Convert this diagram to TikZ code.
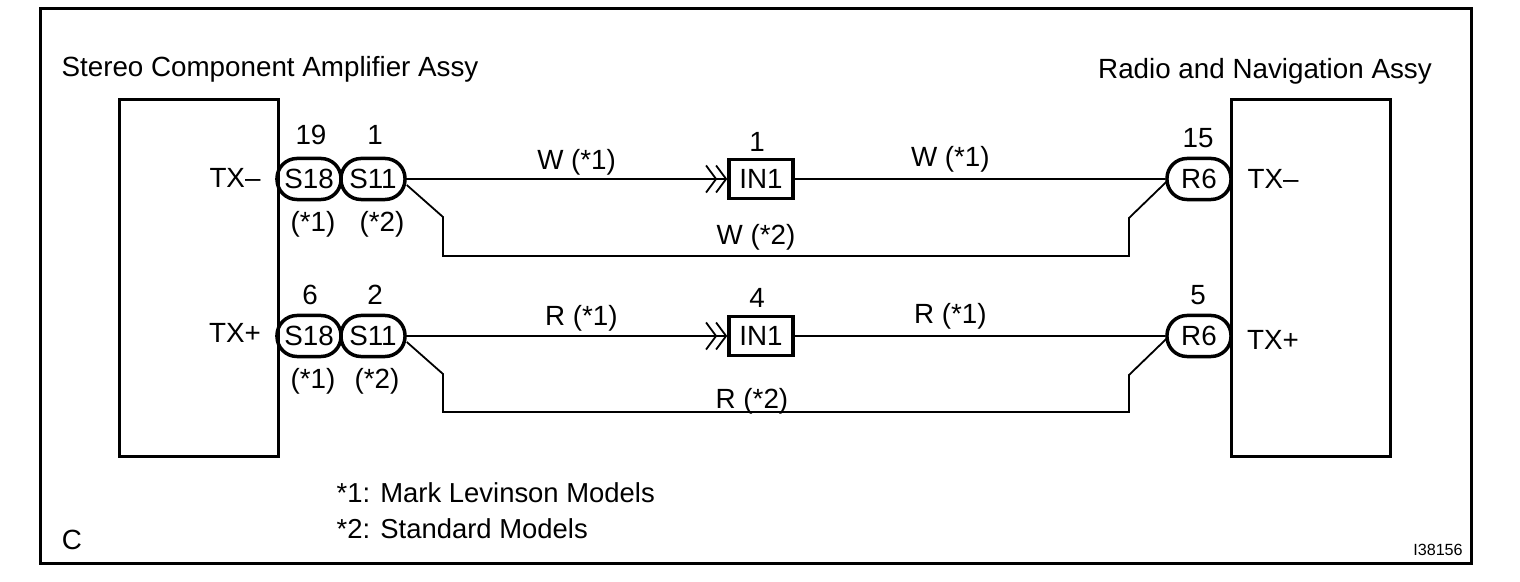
\documentclass[tikz,border=0pt]{standalone}
\usepackage{fontspec}
\setmainfont{Liberation Sans}
\usetikzlibrary{arrows.meta,calc}
\begin{document}
\begin{tikzpicture}[x=0.01cm,y=-0.01cm,
    every node/.style={font=\fontsize{7.9pt}{9pt}\selectfont,inner sep=0pt},
    unit/.style={draw,line width=0.03cm,minimum width=1.59cm,minimum height=3.56cm},
    plug/.style={draw,line width=0.035cm,rounded corners=0.2cm,minimum width=0.64cm,minimum height=0.41cm},
    inbox/.style={draw,line width=0.035cm,minimum width=0.64cm,minimum height=0.39cm},
    wire/.style={line width=0.018cm},
    note/.style={anchor=west,font=\fontsize{7.8pt}{9pt}\selectfont},
    inarrow/.style={-{Straight Barb[length=0.1cm,width=0.27cm,line width=0.018cm,sep=-0.02cm] Straight Barb[length=0.1cm,width=0.27cm,line width=0.018cm]}}]
    \useasboundingbox (0,0) rectangle (1520,582);
    \node[draw,line width=0.03cm,minimum width=14.3cm,minimum height=5.54cm] (frame) at (756,286) {};
    \node (ampname) at (270,69) {Stereo Component Amplifier Assy};
    \node (radioname) at (1265,71) {Radio and Navigation Assy};
    \node[unit] (amp) at (199,278) {};
    \node[unit] (radio) at (1311,278) {};
    \node (amptxm) at (235,178) {TX--};
    \node (amptxp) at (235,333) {TX+};
    \node (radiotxm) at (1273,179) {TX--};
    \node (radiotxp) at (1273,340) {TX+};
    % upper line
    \node[plug] (s18a) at (309,179) {S18};
    \node[plug] (s11a) at (373,179) {S11};
    \node[inbox] (ina) at (761,179) {IN1};
    \node[plug] (r6a) at (1199,179) {R6};
    \node (pin19) at (311,135) {19};
    \node (pin1) at (375,135) {1};
    \node (pinin1) at (757,142) {1};
    \node (pin15) at (1198,138) {15};
    \node (s18anote) at (313,224) {(*1)};
    \node (s11anote) at (382,224) {(*2)};
    \draw[wire,inarrow] (s11a.east) -- (ina.west) node[pos=0.53,above=0.03cm] (wa) {W (*1)};
    \draw[wire] (ina.east) -- (r6a.west) node[pos=0.42,above=0.06cm] (wb) {W (*1)};
    \coordinate (ka) at (443,217);
    \coordinate (kb) at (443,256);
    \coordinate (kc) at (1129,256);
    \coordinate (kd) at (1129,218);
    \draw[wire] (s11a.east) ++(0,6) -- (ka) -- (kb) -- (kc) -- (kd) -- ($(r6a.west)+(1,3)$);
    \node (wc) at (756,237) {W (*2)};
    % lower line
    \node[plug] (s18b) at (309,336) {S18};
    \node[plug] (s11b) at (373,336) {S11};
    \node[inbox] (inb) at (761,336) {IN1};
    \node[plug] (r6b) at (1199,336) {R6};
    \node (pin6) at (310,295) {6};
    \node (pin2) at (375,295) {2};
    \node (pinin4) at (757,298) {4};
    \node (pin5) at (1198,295) {5};
    \node (s18bnote) at (313,381) {(*1)};
    \node (s11bnote) at (377,381) {(*2)};
    \draw[wire,inarrow] (s11b.east) -- (inb.west) node[pos=0.545,above=0.04cm] (ra) {R (*1)};
    \draw[wire] (inb.east) -- (r6b.west) node[pos=0.42,above=0.06cm] (rb) {R (*1)};
    \coordinate (la) at (443,374);
    \coordinate (lb) at (443,412);
    \coordinate (lc) at (1129,412);
    \coordinate (ld) at (1129,375);
    \draw[wire] (s11b.east) ++(0,6) -- (la) -- (lb) -- (lc) -- (ld) -- ($(r6b.west)+(1,3)$);
    \node (rc) at (752,401) {R (*2)};
    \node[note] (note1) at (336,493) {*1: Mark Levinson Models};
    \node[note] (note2) at (336,529) {*2: Standard Models};
    \node (corner) at (72,540) {C};
    \node[font=\fontsize{4.6pt}{5pt}\selectfont] (figno) at (1438,550) {I38156};
\end{tikzpicture}
\end{document}
